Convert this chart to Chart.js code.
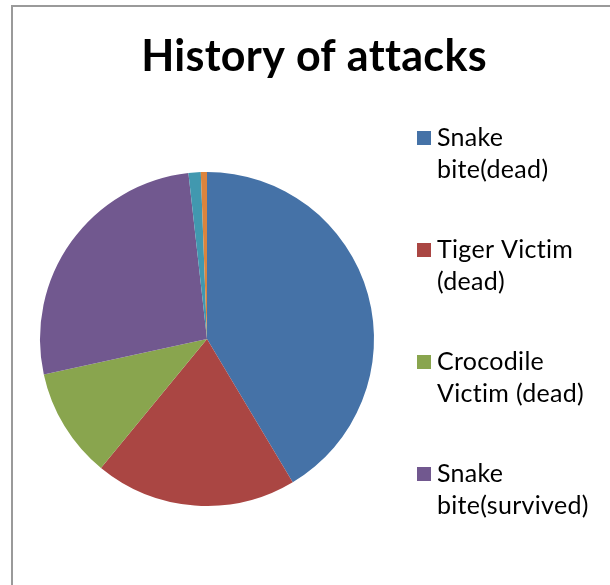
<!DOCTYPE html>
<html>
<head>
<meta charset="utf-8">
<script src="https://cdn.jsdelivr.net/npm/chart.js@4/dist/chart.umd.min.js"></script>
<style>
  html, body { margin: 0; padding: 0; background: #fff; overflow: hidden; }
  #wrap { position: relative; width: 610px; height: 585px; }
  #frame { position: absolute; left: 11px; top: 5px; width: 640px; height: 640px;
           border: 2px solid #9a9a9a; box-sizing: border-box; }
  canvas { position: absolute; left: 0; top: 0; }
</style>
</head>
<body>
<div id="wrap">
  <div id="frame"></div>
  <canvas id="c" width="610" height="585"></canvas>
</div>
<script>
// Attack records by outcome
const categories = [
  'Snake bite(dead)',
  'Tiger Victim (dead)',
  'Crocodile Victim (dead)',
  'Snake bite(survived)',
  'Tiger Victim (survived)',
  'Crocodile Victim (survived)'
];
const attackCounts = [70, 33, 18, 45, 2, 1];
const sliceColors = ['#4572A7', '#AA4643', '#89A54E', '#71588F', '#4198AF', '#DB843D'];
const chartTitle = 'History of attacks';

const FONT = 'Lato, "Open Sans", sans-serif';

// Title and wrapped side legend drawn onto the chart canvas;
// legend entries that would not fit inside the legend box are left out.
const sideText = {
  id: 'sideText',
  afterDraw(chart) {
    const ctx = chart.ctx;
    ctx.save();
    // a tiny letter spacing keeps "ti"/"tt" as separate glyphs
    if ('letterSpacing' in ctx) ctx.letterSpacing = '0.3px';
    ctx.fillStyle = '#000';
    ctx.textBaseline = 'alphabetic';
    ctx.textAlign = 'center';
    ctx.font = 'bold 43px ' + FONT;
    ctx.fillText(chartTitle, 314, 71);

    ctx.textAlign = 'left';
    ctx.font = '25px ' + FONT;
    const maxW = 165, lineH = 32, itemH = 112, boxBottom = 560;
    const labels = chart.data.labels;
    const colors = chart.data.datasets[0].backgroundColor;
    for (let i = 0; i < labels.length; i++) {
      const base = 146 + i * itemH;
      const words = labels[i].split(' ');
      const lines = [];
      let cur = '';
      words.forEach(w => {
        const t = cur ? cur + ' ' + w : w;
        if (cur && ctx.measureText(t).width > maxW) { lines.push(cur); cur = w; }
        else cur = t;
      });
      if (cur) lines.push(cur);
      if (base + (lines.length - 1) * lineH + 8 > boxBottom) break;
      ctx.fillStyle = colors[i];
      ctx.fillRect(417, base - 15, 14, 14);
      ctx.fillStyle = '#000';
      lines.forEach((ln, k) => ctx.fillText(ln, 437, base + k * lineH));
    }
    ctx.restore();
  }
};

new Chart(document.getElementById('c'), {
  type: 'pie',
  data: {
    labels: categories,
    datasets: [{
      data: attackCounts,
      backgroundColor: sliceColors,
      borderWidth: 0
    }]
  },
  options: {
    responsive: false,
    animation: false,
    layout: { padding: { left: 40, right: 236, top: 172, bottom: 79 } },
    plugins: {
      legend: { display: false },
      title: { display: false },
      tooltip: { enabled: false }
    }
  },
  plugins: [sideText]
});
</script>
</body>
</html>
